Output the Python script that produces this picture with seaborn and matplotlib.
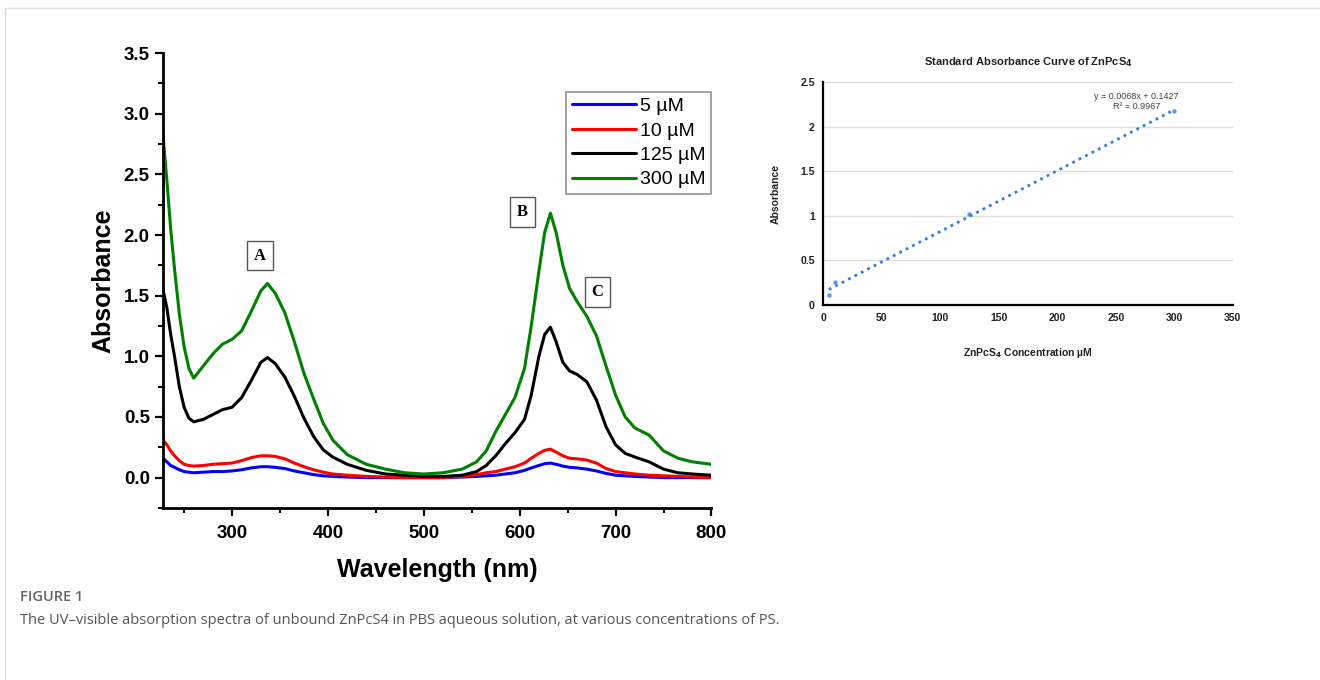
import numpy as np
import pandas as pd
import matplotlib
matplotlib.use("Agg")
import matplotlib.pyplot as plt
from matplotlib.lines import Line2D
from matplotlib.ticker import MultipleLocator
import seaborn as sns

# ---------------- data ----------------
wavelength = [228, 232, 236, 240, 245, 250, 255, 260, 270, 280, 290, 300, 310, 320, 330, 337,
              345, 355, 365, 375, 385, 395, 405, 420, 440, 460, 480, 500, 520, 540, 555, 565,
              575, 585, 595, 605, 612, 620, 626, 632, 638, 645, 652, 660, 670, 680, 690, 700,
              710, 720, 735, 750, 765, 780, 800]

abs_5uM = [0.16, 0.13, 0.10, 0.085, 0.065, 0.05, 0.045, 0.04, 0.045, 0.05, 0.05, 0.055, 0.065, 0.08,
           0.09, 0.09, 0.085, 0.075, 0.055, 0.04, 0.025, 0.015, 0.01, 0.005, 0.0, 0.0, 0.0, 0.0,
           0.0, 0.005, 0.01, 0.015, 0.02, 0.03, 0.04, 0.06, 0.08, 0.10, 0.115, 0.12, 0.11, 0.095,
           0.085, 0.08, 0.07, 0.055, 0.035, 0.02, 0.015, 0.01, 0.005, 0.0, 0.0, 0.0, 0.0]

abs_10uM = [0.31, 0.27, 0.22, 0.18, 0.14, 0.11, 0.10, 0.095, 0.10, 0.11, 0.115, 0.12, 0.14, 0.165,
            0.18, 0.18, 0.175, 0.155, 0.12, 0.09, 0.065, 0.045, 0.03, 0.02, 0.01, 0.005, 0.0, 0.0,
            0.0, 0.01, 0.025, 0.04, 0.05, 0.07, 0.09, 0.12, 0.16, 0.20, 0.225, 0.235, 0.21, 0.18,
            0.16, 0.155, 0.145, 0.12, 0.075, 0.05, 0.04, 0.03, 0.02, 0.015, 0.01, 0.005, 0.0]

abs_125uM = [1.55, 1.40, 1.18, 1.00, 0.75, 0.58, 0.49, 0.46, 0.48, 0.52, 0.56, 0.58, 0.66, 0.80,
             0.95, 0.99, 0.94, 0.83, 0.67, 0.49, 0.34, 0.23, 0.17, 0.11, 0.06, 0.03, 0.02, 0.01,
             0.01, 0.02, 0.05, 0.10, 0.18, 0.28, 0.37, 0.48, 0.68, 1.00, 1.18, 1.24, 1.12, 0.95,
             0.88, 0.85, 0.79, 0.64, 0.42, 0.27, 0.20, 0.17, 0.13, 0.07, 0.04, 0.03, 0.02]

abs_300uM = [2.82, 2.45, 2.05, 1.72, 1.35, 1.08, 0.90, 0.82, 0.92, 1.02, 1.10, 1.14, 1.21, 1.37,
             1.54, 1.60, 1.52, 1.36, 1.12, 0.86, 0.65, 0.45, 0.31, 0.19, 0.11, 0.07, 0.04, 0.03,
             0.04, 0.07, 0.13, 0.22, 0.38, 0.52, 0.66, 0.90, 1.25, 1.70, 2.02, 2.18, 2.02, 1.75,
             1.56, 1.45, 1.33, 1.17, 0.92, 0.68, 0.50, 0.41, 0.35, 0.22, 0.16, 0.13, 0.11]

series_labels = ["5 µM", "10 µM", "125 µM", "300 µM"]
series_colors = ["#0000ff", "#ff0000", "#000000", "#008000"]

std_conc = [5, 10, 125, 300]
std_abs = [0.11, 0.26, 1.02, 2.18]

peak_labels = ["A", "B", "C"]
peak_x = [329, 603, 681]
peak_y = [1.83, 2.19, 1.53]

# ---------------- long-form table ----------------
frames = []
for lab, vals in zip(series_labels, [abs_5uM, abs_10uM, abs_125uM, abs_300uM]):
    frames.append(pd.DataFrame({"Wavelength": wavelength, "Absorbance": vals, "Conc": lab}))
spec = pd.DataFrame(pd.concat(frames, ignore_index=True))
std = pd.DataFrame({"Conc": std_conc, "Abs": std_abs})

# ---------------- figure ----------------
sns.set_style("ticks")
plt.rcParams["font.family"] = ["Liberation Sans", "DejaVu Sans"]
plt.rcParams["text.color"] = "black"
plt.rcParams["axes.labelcolor"] = "black"
plt.rcParams["xtick.color"] = "black"
plt.rcParams["ytick.color"] = "black"

fig = plt.figure(figsize=(13.2, 6.8), dpi=100)

# ---- left: spectra ----
ax = fig.add_axes([0.1235, 0.253, 0.4155, 0.669])
sns.lineplot(data=spec, x="Wavelength", y="Absorbance", hue="Conc",
             hue_order=series_labels, palette=series_colors, linewidth=2.2,
             ax=ax, sort=False, estimator=None)
ax.set_xlim(228, 800)
ax.set_ylim(-0.25, 3.5)
ax.xaxis.set_major_locator(MultipleLocator(100))
ax.xaxis.set_minor_locator(MultipleLocator(50))
ax.yaxis.set_major_locator(MultipleLocator(0.5))
ax.yaxis.set_minor_locator(MultipleLocator(0.25))
ax.set_xticks([300, 400, 500, 600, 700, 800])
ax.set_yticks([0.0, 0.5, 1.0, 1.5, 2.0, 2.5, 3.0, 3.5])
ax.set_yticklabels(["0.0", "0.5", "1.0", "1.5", "2.0", "2.5", "3.0", "3.5"])
ax.tick_params(axis="both", which="major", direction="out", length=6, width=1.6,
               labelsize=13.5, color="black", labelcolor="black")
ax.tick_params(axis="x", which="major", pad=6)
ax.tick_params(axis="both", which="minor", direction="out", length=3.5, width=1.4, color="black")
for lbl in ax.get_xticklabels() + ax.get_yticklabels():
    lbl.set_fontweight("bold")
for side in ["top", "right"]:
    ax.spines[side].set_visible(False)
for side in ["left", "bottom"]:
    ax.spines[side].set_linewidth(2)
    ax.spines[side].set_color("black")
ax.set_xlabel("Wavelength (nm)", fontsize=18, fontweight="bold", labelpad=12, color="black")
ax.set_ylabel("Absorbance", fontsize=18, fontweight="bold", labelpad=6, color="black")

leg = ax.legend(loc="upper right", bbox_to_anchor=(1.0, 0.915), borderaxespad=0,
                fontsize=14, frameon=True, fancybox=False, edgecolor="#777777",
                handlelength=3.3, handletextpad=0.2, labelspacing=0.35,
                borderpad=0.3, title=None)
leg.get_frame().set_linewidth(1.2)
for h in leg.get_lines():
    h.set_linewidth(2.2)
for txt in leg.get_texts():
    txt.set_color("black")

for t, xx, yy in zip(peak_labels, peak_x, peak_y):
    ax.text(xx, yy, t, ha="center", va="center", fontsize=12, fontweight="bold",
            family=["Liberation Serif", "DejaVu Serif"], color="black",
            bbox=dict(boxstyle="square,pad=0.4", facecolor="white", edgecolor="#555555", linewidth=1))

# ---- right: standard curve ----
ax2 = fig.add_axes([0.6235, 0.5515, 0.3105, 0.3275])
sns.regplot(data=std, x="Conc", y="Abs", ci=None, truncate=True, ax=ax2,
            scatter_kws=dict(s=10, color="#2f7fe0", linewidths=0),
            line_kws=dict(color="#2f7fe0", linestyle=(0, (1, 1.6)), linewidth=2))
ax2.set_xlim(0, 350)
ax2.set_ylim(0, 2.5)
ax2.set_xticks([0, 50, 100, 150, 200, 250, 300, 350])
ax2.set_yticks([0, 0.5, 1, 1.5, 2, 2.5])
ax2.set_yticklabels(["0", "0.5", "1", "1.5", "2", "2.5"])
ax2.yaxis.grid(True, color="#dddddd", linewidth=0.9)
ax2.set_axisbelow(True)
ax2.tick_params(axis="both", length=0, labelsize=7.5, pad=6, labelcolor="#222222")
for lbl in ax2.get_xticklabels() + ax2.get_yticklabels():
    lbl.set_fontweight("bold")
for side in ["top", "right"]:
    ax2.spines[side].set_visible(False)
for side in ["left", "bottom"]:
    ax2.spines[side].set_linewidth(1.6)
    ax2.spines[side].set_color("black")
ax2.set_xlabel(r"ZnPcS$_\mathbf{4}$ Concentration µM", fontsize=7.5, fontweight="bold", labelpad=16, color="#222222")
ax2.set_ylabel("Absorbance", fontsize=7.5, fontweight="bold", labelpad=14, color="#222222")
ax2.set_title(r"Standard Absorbance Curve of ZnPcS$_\mathbf{4}$", fontsize=8, fontweight="bold", pad=12, color="#222222")
ax2.text(0.765, 0.955, "y = 0.0068x + 0.1427\nR² = 0.9967", transform=ax2.transAxes,
         ha="center", va="top", fontsize=6.5, color="#444444", linespacing=1.05)

# ---- caption and frame ----
fig.text(20 / 1320, 1 - 597 / 680, "FIGURE 1", fontsize=10.5, color="#666666",
         family=["Open Sans", "DejaVu Sans"], fontweight="semibold", va="center")
fig.text(20 / 1320, 1 - 620 / 680,
         "The UV\u2013visible absorption spectra of unbound ZnPcS4 in PBS aqueous solution, at various concentrations of PS.",
         fontsize=10.5, color="#555555", family=["Open Sans", "DejaVu Sans"], va="center")
fig.add_artist(Line2D([5 / 1320, 1.0], [1 - 8 / 680, 1 - 8 / 680], color="#dddddd", lw=1))
fig.add_artist(Line2D([5 / 1320, 5 / 1320], [0.0, 1 - 8 / 680], color="#dddddd", lw=1))

fig.savefig("out.png", dpi=100)
